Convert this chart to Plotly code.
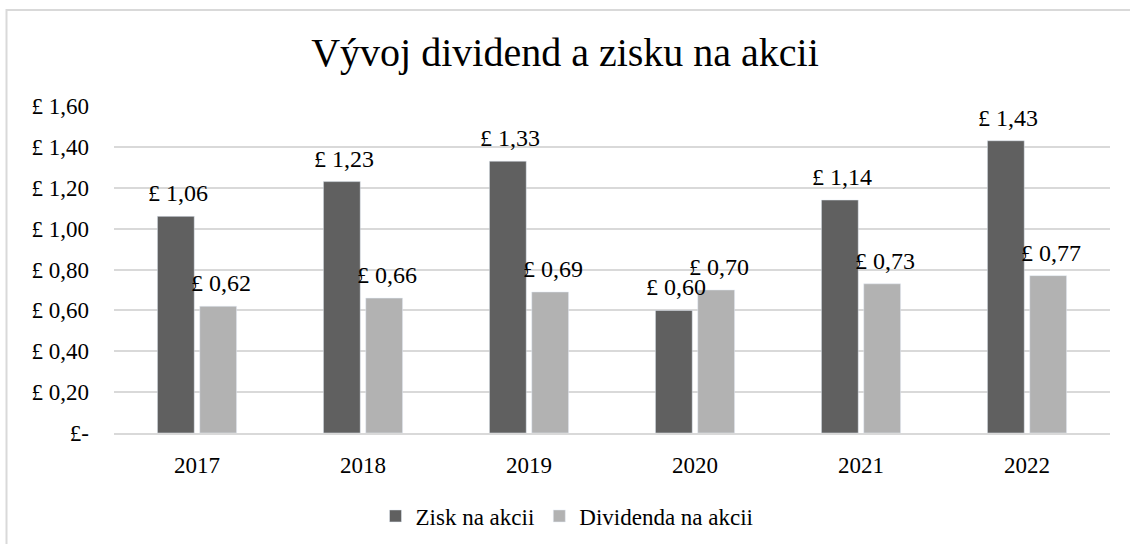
import plotly.graph_objects as go

years = ["2017", "2018", "2019", "2020", "2021", "2022"]
zisk = [1.06, 1.23, 1.33, 0.60, 1.14, 1.43]
dividenda = [0.62, 0.66, 0.69, 0.70, 0.73, 0.77]
tick_vals = [0, 0.2, 0.4, 0.6, 0.8, 1.0, 1.2, 1.4, 1.6]
tick_text = ["£-", "£ 0,20", "£ 0,40", "£ 0,60", "£ 0,80", "£ 1,00", "£ 1,20", "£ 1,40", "£ 1,60"]

def fmt(v):
    return "£ " + f"{v:.2f}".replace(".", ",")

FONT = "Liberation Serif"

# plot area in page pixels
PL, PR, PT, PB = 114, 1110, 106, 433
W, H = 1130, 544
PW, PH = PR - PL, PB - PT

fig = go.Figure()
fig.add_trace(go.Bar(x=years, y=zisk, name="Zisk na akcii", marker_color="#606060"))
fig.add_trace(go.Bar(x=years, y=dividenda, name="Dividenda na akcii", marker_color="#b2b2b2"))

for series, dx in ((zisk, -19), (dividenda, 24)):
    for i, v in enumerate(series):
        fig.add_annotation(x=i, y=v, text=fmt(v), showarrow=False, xshift=dx,
                           yshift=23, yanchor="middle", xanchor="center",
                           font=dict(size=24, family=FONT, color="#000000"))

fig.update_layout(
    width=W, height=H,
    margin=dict(l=PL, r=W - PR, t=PT, b=H - PB, autoexpand=False),
    paper_bgcolor="white", plot_bgcolor="white",
    font=dict(family=FONT, size=23, color="#000000"),
    title=dict(text="Vývoj dividend a zisku na akcii", x=(565 - PL) / PW, xref="paper",
               xanchor="center", y=1 - 52 / H, yref="container", yanchor="middle",
               font=dict(size=40, family=FONT, color="#000000")),
    bargap=0.49, bargroupgap=0.13,
    showlegend=True,
    legend=dict(orientation="h", x=(567 - PL) / PW, xanchor="center",
                y=(PB - 516) / PH, yanchor="middle",
                font=dict(size=23, family=FONT, color="#000000"), traceorder="normal"),
    xaxis=dict(type="category", categoryorder="array", categoryarray=years,
               range=[-0.5, len(years) - 0.5], showgrid=False, showline=True,
               linecolor="#d9d9d9", linewidth=1.5,
               ticks="", ticklabelstandoff=11, tickfont=dict(size=23), automargin=False),
    yaxis=dict(range=[0, 1.6], tickvals=tick_vals, ticktext=tick_text, showgrid=True,
               gridcolor="#d9d9d9", gridwidth=1.5, zeroline=False, showline=False,
               ticks="", ticklabelstandoff=24, tickfont=dict(size=23), automargin=False),
    shapes=[dict(type="rect", xref="paper", yref="paper",
                 x0=(6.5 - PL) / PW, x1=(1140 - PL) / PW,
                 y0=(PB - 560) / PH, y1=(PB - 10) / PH,
                 line=dict(color="#d9d9d9", width=2), fillcolor="rgba(0,0,0,0)", layer="below")],
)

fig.write_html("out.html", config={"displayModeBar": False},
               post_script="document.body.style.margin='0';document.body.style.padding='0';")
